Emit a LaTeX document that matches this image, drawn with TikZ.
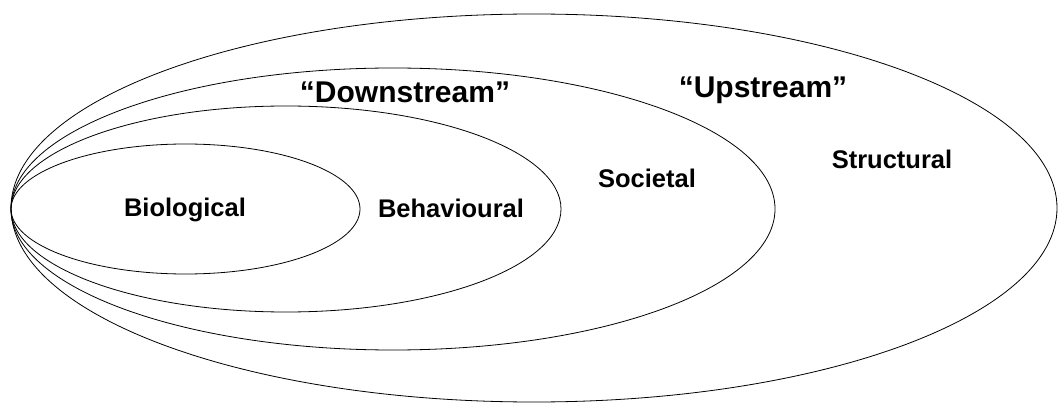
\documentclass[tikz,border=0pt]{standalone}
\usepackage{fontspec}
\setmainfont{Liberation Sans}
\begin{document}
\begin{tikzpicture}[x=1pt,y=-1pt,
  ring/.style={draw=black,line width=0.8pt},
  lab/.style={font=\fontsize{25.5}{30}\selectfont\bfseries,anchor=base,inner sep=0pt},
  head/.style={font=\fontsize{30}{36}\selectfont\bfseries,anchor=base,inner sep=0pt}]
\useasboundingbox (0,0) rectangle (1059,403);
\draw[ring] (534,208) ellipse [x radius=523,y radius=194];
\draw[ring] (393,209) ellipse [x radius=382,y radius=141];
\draw[ring] (286,209) ellipse [x radius=275,y radius=103];
\draw[ring] (185.5,209) ellipse [x radius=174.5,y radius=65];
\node[lab] (bio) at (185,217) {Biological};
\node[lab] (beh) at (451,218) {Behavioural};
\node[lab] (soc) at (647,188) {Societal};
\node[lab] (str) at (892,169) {Structural};
\node[head] (down) at (405,103) {“Downstream”};
\node[head] (up) at (763,98) {“Upstream”};
\end{tikzpicture}
\end{document}
